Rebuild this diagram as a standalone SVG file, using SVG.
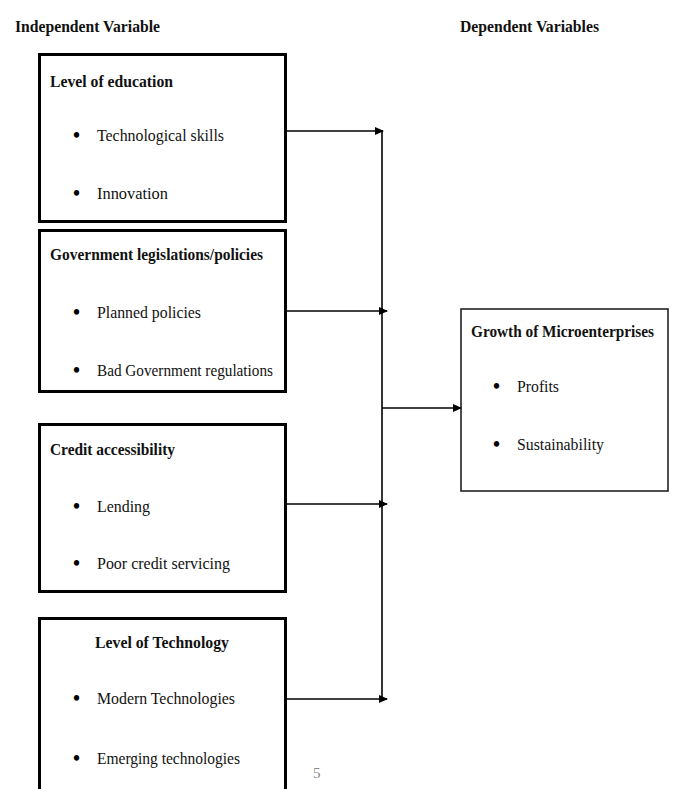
<svg xmlns="http://www.w3.org/2000/svg" width="673" height="789" viewBox="0 0 673 789">
<style>
.box{fill:#fff;stroke:#000;stroke-width:3}
.rbox{fill:#fff;stroke:#222;stroke-width:1.6}
.h{font-family:"Liberation Serif","Times New Roman",serif;font-weight:bold;font-size:16px;fill:#111}
.t{font-family:"Liberation Serif","Times New Roman",serif;font-size:16px;fill:#111}
.b{font-family:"Liberation Serif","Times New Roman",serif;font-weight:bold;font-size:20px;fill:#000}
.ln{stroke:#000;stroke-width:1.6;fill:none}
</style>
<defs>
<marker id="ah" markerWidth="9" markerHeight="8" refX="8" refY="4" orient="auto" markerUnits="userSpaceOnUse">
<path d="M0,0 L9,4 L0,8 Z" fill="#000"/>
</marker>
</defs>
<rect width="673" height="789" fill="#fff"/>
<text class="h" x="15" y="32" textLength="145" lengthAdjust="spacingAndGlyphs">Independent Variable</text>
<text class="h" x="460" y="32" textLength="139" lengthAdjust="spacingAndGlyphs">Dependent Variables</text>

<g id="node-education">
<rect class="box" x="39.5" y="54.5" width="246" height="167"/>
<text class="h" x="50" y="87" textLength="123" lengthAdjust="spacingAndGlyphs">Level of education</text>
<text class="b" x="73" y="142">•</text>
<text class="t" x="97" y="141" textLength="127" lengthAdjust="spacingAndGlyphs">Technological skills</text>
<text class="b" x="73" y="200">•</text>
<text class="t" x="97" y="199" textLength="71" lengthAdjust="spacingAndGlyphs">Innovation</text>
</g>

<g id="node-government">
<rect class="box" x="39.5" y="230.5" width="246" height="161"/>
<text class="h" x="50" y="260" textLength="213" lengthAdjust="spacingAndGlyphs">Government legislations/policies</text>
<text class="b" x="73" y="319">•</text>
<text class="t" x="97" y="318" textLength="104" lengthAdjust="spacingAndGlyphs">Planned policies</text>
<text class="b" x="73" y="377">•</text>
<text class="t" x="97" y="376" textLength="176" lengthAdjust="spacingAndGlyphs">Bad Government regulations</text>
</g>

<g id="node-credit">
<rect class="box" x="39.5" y="424.5" width="246" height="167"/>
<text class="h" x="50" y="455" textLength="125" lengthAdjust="spacingAndGlyphs">Credit accessibility</text>
<text class="b" x="73" y="513">•</text>
<text class="t" x="97" y="512" textLength="53" lengthAdjust="spacingAndGlyphs">Lending</text>
<text class="b" x="73" y="570">•</text>
<text class="t" x="97" y="569" textLength="133" lengthAdjust="spacingAndGlyphs">Poor credit servicing</text>
</g>

<g id="node-technology">
<rect class="box" x="39.5" y="618.5" width="246" height="190"/>
<text class="h" x="95" y="648" textLength="134" lengthAdjust="spacingAndGlyphs">Level of Technology</text>
<text class="b" x="73" y="705">•</text>
<text class="t" x="97" y="704" textLength="138" lengthAdjust="spacingAndGlyphs">Modern Technologies</text>
<text class="b" x="73" y="765">•</text>
<text class="t" x="97" y="764" textLength="143" lengthAdjust="spacingAndGlyphs">Emerging technologies</text>
</g>

<g id="node-growth">
<rect class="rbox" x="461" y="309" width="207" height="182"/>
<text class="h" x="471" y="337" textLength="183" lengthAdjust="spacingAndGlyphs">Growth of Microenterprises</text>
<text class="b" x="493" y="393">•</text>
<text class="t" x="517" y="392" textLength="42" lengthAdjust="spacingAndGlyphs">Profits</text>
<text class="b" x="493" y="451">•</text>
<text class="t" x="517" y="450" textLength="87" lengthAdjust="spacingAndGlyphs">Sustainability</text>
</g>

<g id="connectors">
<line class="ln" x1="382" y1="131" x2="382" y2="700"/>
<line class="ln" x1="286" y1="131" x2="383" y2="131" marker-end="url(#ah)"/>
<line class="ln" x1="286" y1="311" x2="387" y2="311" marker-end="url(#ah)"/>
<line class="ln" x1="286" y1="504" x2="387" y2="504" marker-end="url(#ah)"/>
<line class="ln" x1="286" y1="699" x2="387" y2="699" marker-end="url(#ah)"/>
<line class="ln" x1="382" y1="408" x2="461" y2="408" marker-end="url(#ah)"/>
</g>

<text x="313" y="778" font-family="'Liberation Serif', serif" font-size="15" fill="#888">5</text>
</svg>
